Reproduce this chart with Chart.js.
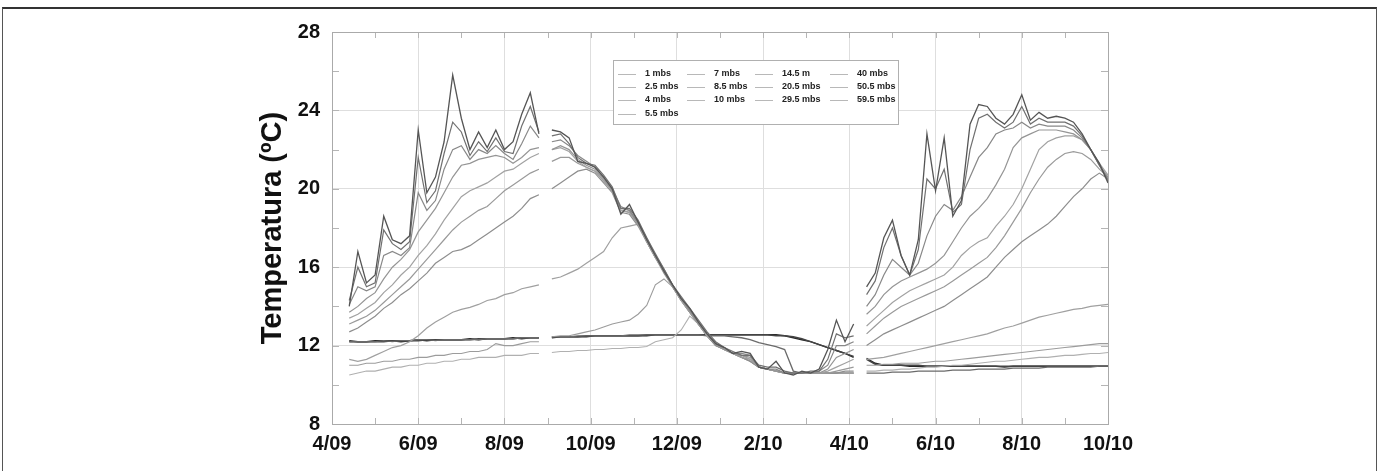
<!DOCTYPE html>
<html>
<head>
<meta charset="utf-8">
<title>Temperatura</title>
<script src="https://cdn.jsdelivr.net/npm/chart.js@4.4.1/dist/chart.umd.min.js"></script>
<style>
  html, body { margin: 0; padding: 0; background: #fff; }
  #wrap { position: relative; width: 1380px; height: 471px; overflow: hidden; }
  #tempChart { position: absolute; left: 0; top: 0; }
  #frame {
    position: absolute; left: 2px; top: 7px; width: 1373px; height: 480px;
    border-top: 2px solid #333; border-left: 1px solid #555; border-right: 1px solid #555;
    pointer-events: none;
  }
</style>
</head>
<body>
<div id="wrap">
  <canvas id="tempChart" width="1380" height="471"></canvas>
  <div id="frame"></div>
</div>
<script>
// === Data ===
// x = months counted from Jan 2009 (3 = 4/09, 21 = 10/10); null = logger gap
const months = [
  3.4, 3.6, 3.8, 4.0, 4.2, 4.4, 4.6, 4.8, 5.0, 5.2, 5.4, 5.6, 5.8, 6.0, 6.2, 6.4, 6.6, 6.8, 7.0, 7.2, 7.4, 7.6, 7.8,
  7.95,
  8.1, 8.3, 8.5, 8.7, 8.9, 9.1, 9.3, 9.5, 9.7, 9.9, 10.1, 10.3, 10.5, 10.7, 10.9, 11.1, 11.3, 11.5, 11.7, 11.9,
  12.1, 12.3, 12.5, 12.7, 12.9, 13.1, 13.3, 13.5, 13.7, 13.9, 14.1, 14.3, 14.5, 14.7, 14.9, 15.1,
  15.25,
  15.4, 15.6, 15.8, 16.0, 16.2, 16.4, 16.6, 16.8, 17.0, 17.2, 17.4, 17.6, 17.8, 18.0, 18.2, 18.4, 18.6, 18.8,
  19.0, 19.2, 19.4, 19.6, 19.8, 20.0, 20.2, 20.4, 20.6, 20.8, 21.0
];

const tickLabels = ["4/09", "6/09", "8/09", "10/09", "12/09", "2/10", "4/10", "6/10", "8/10", "10/10"];

const t1 = [
  14.0, 16.8, 15.2, 15.6, 18.6, 17.4, 17.2, 17.6, 23.0, 19.8, 20.6, 22.4, 25.8, 23.6, 22.0, 22.9, 22.1, 23.0, 22.0, 22.4, 23.8, 24.9, 22.8,
  null,
  23.0, 22.9, 22.6, 21.4, 21.3, 21.1, 20.6, 20.0, 18.7, 19.2, 18.3, 17.4, 16.6, 15.8, 15.1, 14.4, 13.9, 13.2, 12.6, 12.1,
  11.9, 11.6, 11.7, 11.6, 10.9, 10.8, 11.2, 10.6, 10.5, 10.7, 10.6, 10.8, 11.8, 13.3, 12.2, 13.1,
  null,
  15.0, 15.7, 17.5, 18.4, 16.6, 15.6, 17.4, 22.8, 19.9, 22.6, 18.6, 19.4, 23.3, 24.3, 24.2, 23.6, 23.3, 23.8,
  24.8, 23.5, 23.9, 23.6, 23.7, 23.6, 23.4, 22.8, 22.0, 21.3, 20.3
];
const t2_5 = [
  14.3, 16.0, 15.0, 15.2, 17.9, 17.2, 16.9, 17.3, 21.6, 19.3, 19.9, 21.8, 23.4, 22.9, 21.7, 22.4, 21.9, 22.6, 21.9, 21.8, 23.2, 24.2, 22.9,
  null,
  22.7, 22.8, 22.3, 21.6, 21.3, 21.2, 20.7, 20.1, 19.0, 19.0, 18.4, 17.5, 16.7, 15.9, 15.1, 14.5, 13.9, 13.3, 12.7, 12.2,
  11.9, 11.7, 11.5, 11.5, 11.0, 10.9, 10.9, 10.7, 10.6, 10.6, 10.7, 10.7, 11.3, 12.6, 12.4, 12.5,
  null,
  14.6, 15.3, 17.0, 18.0, 16.6, 15.6, 16.9, 20.5, 20.0, 21.0, 18.8, 19.2, 22.0, 23.6, 23.8, 23.4, 23.1, 23.4,
  24.2, 23.3, 23.6, 23.4, 23.4, 23.4, 23.2, 22.7, 22.0, 21.2, 20.4
];
const t4 = [
  14.1, 15.0, 14.8, 15.0, 16.6, 16.8, 16.6, 17.0, 19.8, 18.9, 19.4, 21.0, 22.0, 22.2, 21.5, 22.0, 21.8, 22.2, 21.8, 21.5, 22.3, 23.2, 22.6,
  null,
  22.4, 22.5, 22.2, 21.7, 21.4, 21.1, 20.6, 20.0, 19.1, 18.9, 18.3, 17.5, 16.6, 15.9, 15.1, 14.4, 13.8, 13.2, 12.6, 12.1,
  11.9, 11.6, 11.6, 11.5, 10.9, 10.8, 10.8, 10.6, 10.6, 10.6, 10.6, 10.7, 11.0, 12.0, 12.0, 12.2,
  null,
  14.0, 14.6, 15.6, 16.4, 16.0, 15.6, 16.2, 17.6, 18.6, 19.2, 18.9, 19.6, 20.6, 21.6, 22.1, 22.8, 23.0, 23.1,
  23.4, 23.1, 23.3, 23.2, 23.2, 23.2, 23.0, 22.6, 22.0, 21.2, 20.5
];
const t5_5 = [
  13.7, 14.0, 14.4, 14.7, 15.4, 16.0, 16.4, 16.9, 17.8, 18.4, 19.0, 19.8, 20.6, 21.2, 21.3, 21.5, 21.6, 21.7, 21.6, 21.3, 21.6, 22.0, 22.1,
  null,
  22.0, 22.2, 22.0, 21.5, 21.2, 21.0, 20.5, 19.9, 19.0, 18.9, 18.2, 17.4, 16.6, 15.8, 15.0, 14.4, 13.8, 13.1, 12.6, 12.1,
  11.8, 11.6, 11.5, 11.4, 10.9, 10.8, 10.7, 10.6, 10.6, 10.6, 10.6, 10.6, 10.8, 11.4, 11.6, 11.8,
  null,
  13.6, 14.0, 14.6, 15.0, 15.3, 15.5, 15.7, 15.9, 16.2, 16.6, 17.3, 18.0, 18.6, 19.0, 19.5, 20.2, 21.0, 22.1,
  22.6, 22.8, 23.0, 23.0, 23.0, 22.9, 22.8, 22.5, 22.0, 21.2, 20.6
];
const t7 = [
  13.4, 13.6, 13.9, 14.2, 14.7, 15.1, 15.6, 16.0, 16.6, 17.1, 17.7, 18.4, 19.0, 19.6, 19.9, 20.1, 20.3, 20.6, 20.9, 21.0, 21.3, 21.6, 21.8,
  null,
  22.0, 22.1, 21.9, 21.4, 21.1, 20.9, 20.4, 19.9, 18.9, 18.8, 18.2, 17.3, 16.5, 15.8, 15.0, 14.3, 13.8, 13.1, 12.5, 12.1,
  11.8, 11.6, 11.5, 11.3, 10.9, 10.8, 10.7, 10.6, 10.6, 10.6, 10.6, 10.6, 10.7, 10.9, 11.1, 11.3,
  null,
  13.0, 13.4, 13.8, 14.2, 14.5, 14.8, 15.0, 15.2, 15.4, 15.6, 16.0, 16.6, 17.0, 17.3, 17.5, 18.1, 18.6, 19.2,
  20.0, 21.0, 22.0, 22.4, 22.6, 22.7, 22.7, 22.5, 22.0, 21.3, 20.7
];
const t8_5 = [
  13.1, 13.3, 13.5, 13.8, 14.2, 14.6, 15.0, 15.4, 15.9, 16.4, 16.9, 17.4, 17.9, 18.3, 18.6, 18.9, 19.1, 19.5, 19.9, 20.2, 20.5, 20.8, 21.0,
  null,
  21.4, 21.6, 21.6, 21.3, 21.1, 20.9, 20.4, 19.9, 18.9, 18.8, 18.2, 17.3, 16.5, 15.8, 15.0, 14.3, 13.7, 13.1, 12.5, 12.1,
  11.8, 11.6, 11.4, 11.3, 10.9, 10.8, 10.7, 10.6, 10.6, 10.6, 10.6, 10.6, 10.6, 10.7, 10.8, 10.9,
  null,
  12.6, 13.0, 13.4, 13.7, 14.0, 14.2, 14.4, 14.6, 14.8, 15.0, 15.3, 15.6, 15.9, 16.2, 16.5, 17.0, 17.6, 18.3,
  19.0, 19.8, 20.5, 21.1, 21.5, 21.8, 21.9, 21.8, 21.5, 21.0, 20.6
];
const t10 = [
  12.7, 12.9, 13.2, 13.5, 13.9, 14.2, 14.6, 14.9, 15.3, 15.7, 16.2, 16.5, 16.8, 16.9, 17.1, 17.4, 17.7, 18.0, 18.3, 18.6, 19.0, 19.5, 19.7,
  null,
  20.0, 20.3, 20.6, 20.9, 21.0, 20.8, 20.3, 19.8, 18.8, 18.7, 18.1, 17.3, 16.5, 15.7, 15.0, 14.3, 13.7, 13.1, 12.5, 12.0,
  11.8, 11.6, 11.4, 11.2, 10.9, 10.8, 10.7, 10.6, 10.6, 10.6, 10.6, 10.6, 10.6, 10.6, 10.7, 10.7,
  null,
  12.0, 12.3, 12.6, 12.8, 13.0, 13.2, 13.4, 13.6, 13.8, 14.0, 14.3, 14.6, 14.9, 15.2, 15.5, 16.0, 16.5, 16.9,
  17.3, 17.6, 17.9, 18.2, 18.6, 19.1, 19.6, 20.0, 20.5, 20.8, 20.5
];
const t14_5 = [
  11.3, 11.2, 11.3, 11.5, 11.7, 11.9, 12.0, 12.2, 12.5, 12.9, 13.2, 13.45, 13.7, 13.85, 13.95, 14.1, 14.3, 14.4, 14.6, 14.7, 14.9, 15.0, 15.1,
  null,
  15.4, 15.5, 15.7, 15.9, 16.2, 16.5, 16.8, 17.5, 18.0, 18.1, 18.2, 17.3, 16.5, 15.8, 15.0, 14.3, 13.7, 13.1, 12.5, 12.0,
  11.8, 11.6, 11.4, 11.2, 10.9, 10.8, 10.7, 10.6, 10.6, 10.6, 10.6, 10.6, 10.6, 10.6, 10.6, 10.6,
  null,
  11.3, 11.35, 11.4, 11.5, 11.6, 11.7, 11.8, 11.9, 12.0, 12.1, 12.2, 12.3, 12.4, 12.5, 12.6, 12.75, 12.9, 13.0,
  13.15, 13.3, 13.45, 13.55, 13.65, 13.75, 13.85, 13.9, 14.0, 14.05, 14.1
];
const t20_5 = [
  11.0, 11.0, 11.1, 11.1, 11.2, 11.2, 11.3, 11.3, 11.4, 11.4, 11.5, 11.5, 11.6, 11.6, 11.7, 11.7, 11.8, 12.1, 12.0, 12.0, 12.1, 12.2, 12.2,
  null,
  12.45, 12.5, 12.5, 12.6, 12.7, 12.8, 12.95, 13.1, 13.2, 13.3, 13.6, 14.05, 15.1, 15.4, 15.0, 14.3, 13.7, 13.1, 12.5, 12.0,
  11.8, 11.6, 11.4, 11.2, 10.9, 10.8, 10.7, 10.6, 10.6, 10.6, 10.6, 10.6, 10.6, 10.6, 10.6, 10.6,
  null,
  11.0, 11.0, 11.05, 11.05, 11.1, 11.1, 11.1, 11.15, 11.2, 11.2, 11.25, 11.3, 11.35, 11.4, 11.45, 11.5, 11.55, 11.6,
  11.65, 11.7, 11.75, 11.8, 11.85, 11.9, 11.95, 12.0, 12.05, 12.1, 12.1
];
const t29_5 = [
  10.5, 10.6, 10.7, 10.7, 10.8, 10.9, 10.9, 11.0, 11.0, 11.1, 11.1, 11.2, 11.2, 11.3, 11.3, 11.4, 11.4, 11.4, 11.5, 11.5, 11.5, 11.6, 11.6,
  null,
  11.65, 11.7, 11.7, 11.75, 11.75, 11.8, 11.8, 11.85, 11.85, 11.9, 11.9, 11.95, 12.2, 12.3, 12.4, 12.8, 13.5, 13.1, 12.5, 12.0,
  11.8, 11.6, 11.4, 11.2, 10.9, 10.8, 10.7, 10.6, 10.6, 10.6, 10.6, 10.6, 10.6, 10.6, 10.6, 10.6,
  null,
  10.7, 10.7, 10.75, 10.75, 10.8, 10.8, 10.85, 10.9, 10.9, 10.95, 11.0, 11.0, 11.05, 11.1, 11.15, 11.2, 11.2, 11.25,
  11.3, 11.35, 11.4, 11.4, 11.45, 11.5, 11.5, 11.55, 11.6, 11.6, 11.65
];
const t40 = [
  12.2, 12.2, 12.2, 12.2, 12.25, 12.2, 12.25, 12.25, 12.3, 12.3, 12.25, 12.3, 12.3, 12.3, 12.3, 12.3, 12.35, 12.35, 12.35, 12.35, 12.4, 12.4, 12.4,
  null,
  12.45, 12.45, 12.45, 12.5, 12.5, 12.5, 12.5, 12.5, 12.5, 12.55, 12.55, 12.55, 12.55, 12.55, 12.55, 12.55, 12.55, 12.55, 12.5, 12.5,
  12.5, 12.45, 12.4, 12.3, 12.15, 12.05, 11.95, 11.8, 10.7, 10.6, 10.6, 10.6, 10.6, 10.6, 10.6, 10.6,
  null,
  10.6, 10.6, 10.6, 10.65, 10.65, 10.65, 10.7, 10.7, 10.7, 10.7, 10.75, 10.75, 10.75, 10.8, 10.8, 10.8, 10.8, 10.85,
  10.85, 10.85, 10.85, 10.9, 10.9, 10.9, 10.9, 10.9, 10.9, 10.95, 10.95
];
const t50_5 = [
  12.2, 12.2, 12.2, 12.2, 12.2, 12.25, 12.25, 12.25, 12.25, 12.3, 12.3, 12.3, 12.3, 12.3, 12.3, 12.35, 12.35, 12.35, 12.35, 12.35, 12.4, 12.4, 12.4,
  null,
  12.45, 12.45, 12.45, 12.45, 12.5, 12.5, 12.5, 12.5, 12.5, 12.5, 12.5, 12.55, 12.55, 12.55, 12.55, 12.55, 12.55, 12.55, 12.55, 12.55,
  12.55, 12.55, 12.55, 12.55, 12.55, 12.55, 12.5, 12.5, 12.45, 12.35, 12.2, 12.05, 11.9, 11.75, 11.6, 11.45,
  null,
  11.3, 11.05, 11.0, 11.0, 11.0, 11.0, 11.0, 10.95, 10.95, 10.95, 10.95, 10.95, 10.95, 10.95, 10.95, 10.95, 10.95, 10.95,
  10.95, 10.95, 10.95, 10.95, 10.95, 10.95, 10.95, 10.95, 10.95, 10.95, 10.95
];
const t59_5 = [
  12.25, 12.2, 12.2, 12.25, 12.25, 12.25, 12.2, 12.25, 12.3, 12.25, 12.3, 12.3, 12.3, 12.3, 12.35, 12.3, 12.35, 12.35, 12.35, 12.4, 12.35, 12.4, 12.4,
  null,
  12.4, 12.45, 12.45, 12.45, 12.45, 12.5, 12.5, 12.5, 12.5, 12.5, 12.5, 12.5, 12.55, 12.55, 12.55, 12.55, 12.55, 12.55, 12.55, 12.55,
  12.55, 12.55, 12.55, 12.55, 12.55, 12.55, 12.55, 12.5, 12.4, 12.3, 12.2, 12.05, 11.9, 11.75, 11.6, 11.4,
  null,
  11.35, 11.1, 11.0, 11.0, 11.0, 10.95, 10.95, 10.95, 10.95, 10.95, 10.95, 10.95, 10.95, 10.95, 10.95, 10.95, 10.9, 10.95,
  10.95, 10.95, 10.95, 10.95, 10.95, 10.95, 10.95, 10.95, 10.95, 10.95, 10.95
];

const seriesLabels = ["1 mbs", "2.5 mbs", "4 mbs", "5.5 mbs", "7 mbs", "8.5 mbs", "10 mbs",
  "14.5 m", "20.5 mbs", "29.5 mbs", "40 mbs", "50.5 mbs", "59.5 mbs"];
const seriesValues = [t1, t2_5, t4, t5_5, t7, t8_5, t10, t14_5, t20_5, t29_5, t40, t50_5, t59_5];
const seriesColors = ["#555555", "#707070", "#888888", "#959595", "#a2a2a2", "#9a9a9a", "#8e8e8e",
  "#a0a0a0", "#9c9c9c", "#b0b0b0", "#6a6a6a", "#444444", "#262626"];
const seriesWidths = [1.3, 1.2, 1.2, 1.2, 1.2, 1.2, 1.2, 1.2, 1.1, 1.1, 1.3, 1.4, 1.4];
const legendColumns = [4, 3, 3, 3];

const FONT = "'Liberation Sans', Arial, sans-serif";

// === Helpers ===
function toPoints(values) {
  return months.map((m, i) => ({ x: m, y: values[i] }));
}

// frame around the plot + short inward minor ticks
const plotFrame = {
  id: "plotFrame",
  beforeDatasetsDraw(chart) {
    const { ctx, chartArea: a, scales } = chart;
    ctx.save();
    ctx.strokeStyle = "#b5b5b5";
    ctx.lineWidth = 1;
    ctx.beginPath();
    for (let m = 3; m <= 21; m++) {
      const x = Math.round(scales.x.getPixelForValue(m)) + 0.5;
      ctx.moveTo(x, a.bottom);
      ctx.lineTo(x, a.bottom - 6);
      ctx.moveTo(x, a.top);
      ctx.lineTo(x, a.top + 6);
    }
    for (let t = 8; t <= 28; t += 2) {
      const y = Math.round(scales.y.getPixelForValue(t)) + 0.5;
      ctx.moveTo(a.left, y);
      ctx.lineTo(a.left + 7, y);
      ctx.moveTo(a.right, y);
      ctx.lineTo(a.right - 7, y);
    }
    ctx.stroke();
    ctx.strokeStyle = "#aaaaaa";
    ctx.strokeRect(Math.round(a.left) + 0.5, Math.round(a.top) + 0.5,
      Math.round(a.width), Math.round(a.height));
    ctx.restore();
  },
};

// boxed legend laid out in columns inside the plot
const boxLegend = {
  id: "boxLegend",
  afterDatasetsDraw(chart) {
    const { ctx } = chart;
    const box = { x: 613, y: 60, w: 285, h: 64 };
    const colX = [618, 687, 755, 830];
    const rowY = [74, 87, 99.5, 114];
    ctx.save();
    ctx.fillStyle = "#ffffff";
    ctx.fillRect(box.x, box.y, box.w, box.h);
    ctx.strokeStyle = "#b0b0b0";
    ctx.lineWidth = 1;
    ctx.strokeRect(box.x + 0.5, box.y + 0.5, box.w, box.h);
    ctx.font = "bold 9px " + FONT;
    ctx.textBaseline = "middle";
    let k = 0;
    legendColumns.forEach((count, c) => {
      for (let r = 0; r < count; r++, k++) {
        const ds = chart.data.datasets[k];
        const y = Math.round(rowY[r]) + 0.5;
        ctx.strokeStyle = "#b8b8b8";
        ctx.beginPath();
        ctx.moveTo(colX[c], y);
        ctx.lineTo(colX[c] + 18, y);
        ctx.stroke();
        ctx.fillStyle = "#222";
        ctx.fillText(ds.label, colX[c] + 27, rowY[r]);
      }
    });
    ctx.restore();
  },
};

// === Chart ===
function createTempChart() {
  const ctx = document.getElementById("tempChart").getContext("2d");
  const datasets = seriesLabels.map((label, i) => ({
    label: label,
    data: toPoints(seriesValues[i]),
    borderColor: seriesColors[i],
    borderWidth: seriesWidths[i],
    pointRadius: 0,
    tension: 0,
    spanGaps: false,
  }));

  new Chart(ctx, {
    type: "line",
    data: { datasets: datasets },
    plugins: [plotFrame, boxLegend],
    options: {
      responsive: false,
      animation: false,
      layout: { padding: { left: 252, top: 32, right: 272, bottom: 0 } },
      plugins: { legend: { display: false }, tooltip: { enabled: false } },
      scales: {
        x: {
          type: "linear",
          min: 3,
          max: 21,
          afterFit: (s) => { s.height = 47; },
          grid: {
            drawTicks: false,
            color: (c) => ((c.tick && (c.tick.value - 3) % 2 === 0) ? "#dedede" : "rgba(0,0,0,0)"),
          },
          border: { display: false },
          ticks: {
            stepSize: 1,
            autoSkip: false,
            maxRotation: 0,
            padding: 8,
            color: "#111",
            font: { family: FONT, size: 20, weight: "bold" },
            callback: (v) => ((v - 3) % 2 === 0 ? tickLabels[(v - 3) / 2] : ""),
          },
        },
        y: {
          min: 8,
          max: 28,
          afterFit: (s) => { s.width = 80; },
          grid: { drawTicks: false, color: "#dedede" },
          border: { display: false },
          ticks: {
            stepSize: 4,
            padding: 12,
            color: "#111",
            font: { family: FONT, size: 20, weight: "bold" },
          },
          title: {
            display: true,
            text: "Temperatura (ºC)",
            color: "#111",
            padding: { top: 4, bottom: 0 },
            font: { family: FONT, size: 29, weight: "bold" },
          },
        },
      },
    },
  });
}

window.onload = createTempChart;
</script>
</body>
</html>
